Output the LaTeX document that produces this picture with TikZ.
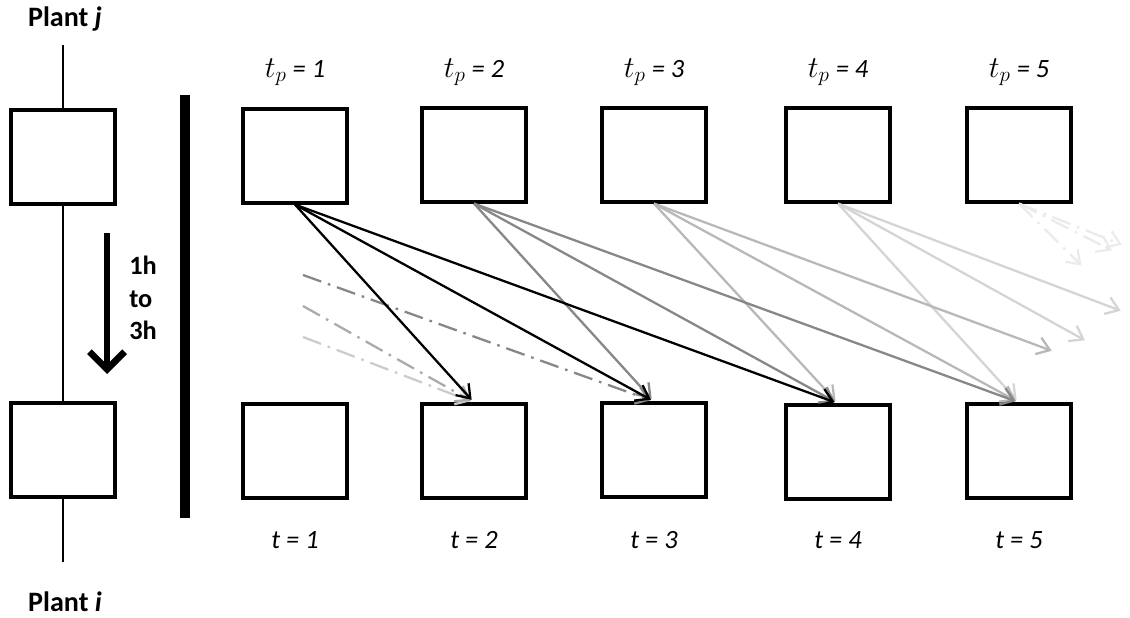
\documentclass[tikz,border=0pt]{standalone}
\usepackage{fontspec}
\setmainfont{Carlito}
\usetikzlibrary{arrows.meta}

\definecolor{tpgray}{gray}{0.53}
\definecolor{tplight}{gray}{0.72}
\definecolor{tppale}{gray}{0.83}
\definecolor{tpfaint}{gray}{0.92}
\definecolor{oldmid}{gray}{0.67}
\definecolor{oldpale}{gray}{0.80}
\newcommand{\tplab}{{\fontsize{17.5}{20}\selectfont$t_p$}}

\begin{document}
\begin{tikzpicture}[x=0.02cm, y=-0.02cm, >={Straight Barb[length=7pt,width=10pt]},
  slot/.style={draw, line width=1.8pt, minimum width=2.08cm, minimum height=1.88cm, inner sep=0pt},
  lbl/.style={font=\fontsize{15}{18}\selectfont\itshape},
  plant/.style={font=\fontsize{16}{19}\selectfont\bfseries, inner sep=1pt},
  flow/.style={->, line width=1.3pt, shorten >=2pt},
  dashdot/.style={dash pattern=on 11pt off 4pt on 1.5pt off 4pt}]
  \useasboundingbox (0,0) rectangle (1130,618);

  % Plant column
  \node[plant] (pj) at (65,19) {Plant \textit{j}};
  \node[plant] (pi) at (65,602) {Plant \textit{i}};
  \node[slot] (sj) at (63,157) {};
  \node[slot] (si) at (63,450) {};
  \coordinate (topend) at (63,45);
  \coordinate (botend) at (63,562);
  \draw[line width=1.3pt] (topend) -- (sj.north);
  \draw[line width=1.3pt] (sj.south) -- (si.north);
  \draw[line width=1.3pt] (si.south) -- (botend);

  % Travel time
  \coordinate (dtop) at (107,233);
  \coordinate (dbot) at (107,374);
  \draw[line width=3.8pt, -{Straight Barb[length=10pt,width=20pt,line width=3.8pt]}] (dtop) -- (dbot);
  \node[font=\fontsize{15}{18.5}\selectfont\bfseries, align=left] (dt) at (143,298) {1h\\to\\3h};

  % Separator
  \coordinate (bartop) at (185,95);
  \coordinate (barbot) at (185,518);
  \draw[line width=5.7pt] (bartop) -- (barbot);

  % Top row
  \node[slot] (p1) at (295,156) {};
  \node[slot] (p2) at (474,155) {};
  \node[slot] (p3) at (654,155) {};
  \node[slot] (p4) at (838,155) {};
  \node[slot] (p5) at (1019,155) {};
  \node[lbl] (lp1) at (295,72) {\tplab{} = 1};
  \node[lbl] (lp2) at (474,72) {\tplab{} = 2};
  \node[lbl] (lp3) at (654,72) {\tplab{} = 3};
  \node[lbl] (lp4) at (838,72) {\tplab{} = 4};
  \node[lbl] (lp5) at (1019,72) {\tplab{} = 5};

  % Bottom row
  \node[slot] (b1) at (295,451) {};
  \node[slot] (b2) at (474,451) {};
  \node[slot] (b3) at (654,450) {};
  \node[slot] (b4) at (838,452) {};
  \node[slot] (b5) at (1019,451) {};
  \node[lbl] (lb1) at (295,540) {t = 1};
  \node[lbl] (lb2) at (474,540) {t = 2};
  \node[lbl] (lb3) at (654,540) {t = 3};
  \node[lbl] (lb4) at (838,540) {t = 4};
  \node[lbl] (lb5) at (1019,540) {t = 5};

  % Free ends
  \coordinate (o1) at (303,275);
  \coordinate (o2) at (303,306);
  \coordinate (o3) at (303,337);
  \coordinate (e36) at (1055,352);
  \coordinate (e46) at (1088,342);
  \coordinate (e47) at (1124,312);
  \coordinate (e56) at (1084,268);
  \coordinate (e57) at (1115,252);
  \coordinate (e58) at (1125,246);

  % tp = 5
  \draw[flow, tpfaint, dashdot] (p5.south) -- (e56);
  \draw[flow, tpfaint, dashdot] (p5.south) -- (e57);
  \draw[flow, tpfaint, dashdot] (p5.south) -- (e58);

  % tp = 4
  \draw[flow, tppale] (p4.south) -- (b5.north);
  \draw[flow, tppale] (p4.south) -- (e46);
  \draw[flow, tppale] (p4.south) -- (e47);

  % tp = 3
  \draw[flow, tplight] (p3.south) -- (b4.north);
  \draw[flow, tplight] (p3.south) -- (b5.north);
  \draw[flow, tplight] (p3.south) -- (e36);

  % earlier periods
  \draw[flow, oldpale, dashdot] (o3) -- (b2.north);
  \draw[flow, oldmid, dashdot] (o2) -- (b2.north);
  \draw[flow, tpgray, dashdot] (o1) -- (b3.north);

  % tp = 2
  \draw[flow, tpgray] (p2.south) -- (b3.north);
  \draw[flow, tpgray] (p2.south) -- (b4.north);
  \draw[flow, tpgray] (p2.south) -- (b5.north);

  % tp = 1
  \draw[flow] (p1.south) -- (b2.north);
  \draw[flow] (p1.south) -- (b3.north);
  \draw[flow] (p1.south) -- (b4.north);
\end{tikzpicture}
\end{document}
